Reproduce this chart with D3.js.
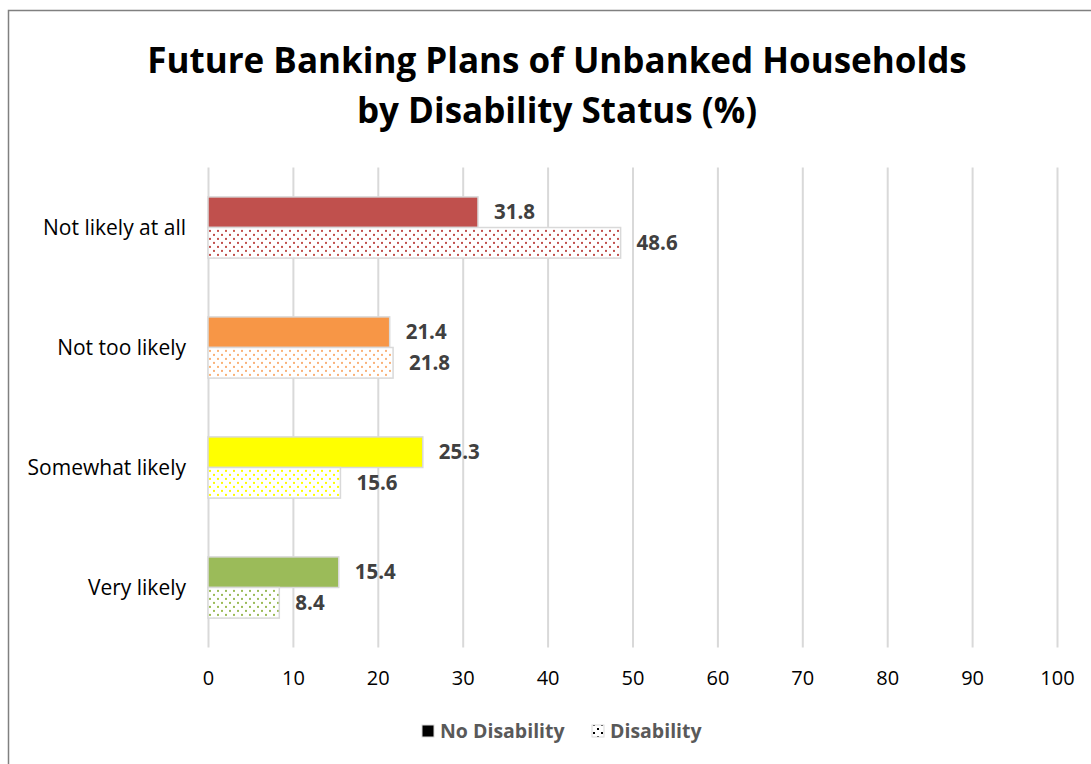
<!DOCTYPE html>
<html>
<head>
<meta charset="utf-8">
<script src="https://cdn.jsdelivr.net/npm/d3@7"></script>
<style>
  html, body { margin: 0; padding: 0; background: #fff; }
  svg { display: block; }
</style>
</head>
<body>
<svg id="chart" width="1091" height="764"></svg>
<script>
const titleLines = ["Future Banking Plans of Unbanked Households", "by Disability Status (%)"];
const categories = ["Not likely at all", "Not too likely", "Somewhat likely", "Very likely"];
const seriesNames = ["No Disability", "Disability"];
const noDisability = [31.8, 21.4, 25.3, 15.4];
const disability = [48.6, 21.8, 15.6, 8.4];
const categoryColors = ["#C0504D", "#F79646", "#FFFF00", "#9BBB59"];
const dotColors = ["#C0504D", "#F9B27A", "#FFFF00", "#9BBB59"];
const xTicks = [0, 10, 20, 30, 40, 50, 60, 70, 80, 90, 100];

const FONT = "'Open Sans', 'Liberation Sans', sans-serif";
const svg = d3.select("#chart");
const W = 1091, H = 764;

// outer border
svg.append("rect").attr("x", 8.5).attr("y", 10.5).attr("width", W + 10).attr("height", H + 10)
  .attr("fill", "#fff").attr("stroke", "#808080").attr("stroke-width", 1.5);

const defs = svg.append("defs");
function makePattern(id, color) {
  const p = defs.append("pattern").attr("id", id).attr("patternUnits", "userSpaceOnUse")
    .attr("width", 8).attr("height", 8);
  p.append("rect").attr("width", 8).attr("height", 8).attr("fill", "#fff");
  p.append("rect").attr("x", 1).attr("y", 1).attr("width", 2).attr("height", 2).attr("fill", color);
  p.append("rect").attr("x", 5).attr("y", 5).attr("width", 2).attr("height", 2).attr("fill", color);
}
dotColors.forEach((c, i) => makePattern("dots" + i, c));
makePattern("dotsLegend", "#000");

const plot = { left: 208, right: 1057, top: 167.5, bottom: 647.5 };
const x = d3.scaleLinear().domain([0, 100]).range([plot.left, plot.right]);
const y = d3.scaleBand().domain(categories).range([plot.top, plot.bottom])
  .paddingInner(0.49).paddingOuter(0.245);
const ySub = d3.scaleBand().domain(seriesNames).range([0, y.bandwidth()]);

// gridlines + tick labels via axis
const xAxis = d3.axisBottom(x).tickValues(xTicks).tickSize(-(plot.bottom - plot.top)).tickPadding(20);
const gx = svg.append("g").attr("transform", `translate(0,${plot.bottom})`).call(xAxis);
gx.select(".domain").remove();
gx.selectAll(".tick line").attr("stroke", "#d9d9d9").attr("stroke-width", 2);
gx.selectAll(".tick text").attr("fill", "#000").attr("font-family", FONT).attr("font-size", 20)
  .attr("y", 30).attr("dy", "0.35em");

// category labels
svg.append("g").selectAll("text").data(categories).join("text")
  .attr("x", 186).attr("y", d => y(d) + y.bandwidth() / 2)
  .attr("dy", "0.35em").attr("text-anchor", "end")
  .attr("font-family", FONT).attr("font-size", 21).attr("fill", "#000")
  .text(d => d);

// bars
const rows = categories.map((c, i) => ({ c, i, vals: [noDisability[i], disability[i]] }));
const groups = svg.append("g").selectAll("g").data(rows).join("g")
  .attr("transform", d => `translate(0,${y(d.c)})`);

groups.selectAll("rect").data(d => d.vals.map((v, j) => ({ v, j, i: d.i, s: seriesNames[j] }))).join("rect")
  .attr("x", x(0)).attr("y", d => ySub(d.s))
  .attr("width", d => x(d.v) - x(0)).attr("height", ySub.bandwidth())
  .attr("fill", d => d.j === 0 ? categoryColors[d.i] : `url(#dots${d.i})`)
  .attr("stroke", "#d9d9d9").attr("stroke-width", 1.5);

groups.selectAll("text").data(d => d.vals.map((v, j) => ({ v, j, s: seriesNames[j] }))).join("text")
  .attr("x", d => x(d.v) + 16).attr("y", d => ySub(d.s) + ySub.bandwidth() / 2)
  .attr("dy", "0.35em")
  .attr("font-family", FONT).attr("font-weight", "bold").attr("font-size", 20.5).attr("fill", "#404040")
  .text(d => d.v.toFixed(1));

// title
const title = svg.append("g");
titleLines.forEach((t, i) => {
  title.append("text").attr("x", 557).attr("y", 73 + i * 50).attr("text-anchor", "middle")
    .attr("font-family", FONT).attr("font-weight", "bold").attr("font-size", 35).attr("fill", "#000")
    .text(t);
});

// legend
const legend = svg.append("g").attr("transform", "translate(0,731)");
const legendItems = [{ name: seriesNames[0], x: 422, fill: "#000" }, { name: seriesNames[1], x: 592, fill: "url(#dotsLegend)" }];
legendItems.forEach(it => {
  legend.append("rect").attr("x", it.x).attr("y", -6).attr("width", 12).attr("height", 12)
    .attr("fill", it.fill).attr("stroke", "#d9d9d9").attr("stroke-width", 1);
  legend.append("text").attr("x", it.x + 18).attr("y", 0).attr("dy", "0.35em")
    .attr("font-family", FONT).attr("font-weight", "bold").attr("font-size", 19.5).attr("fill", "#595959")
    .text(it.name);
});
</script>
</body>
</html>
